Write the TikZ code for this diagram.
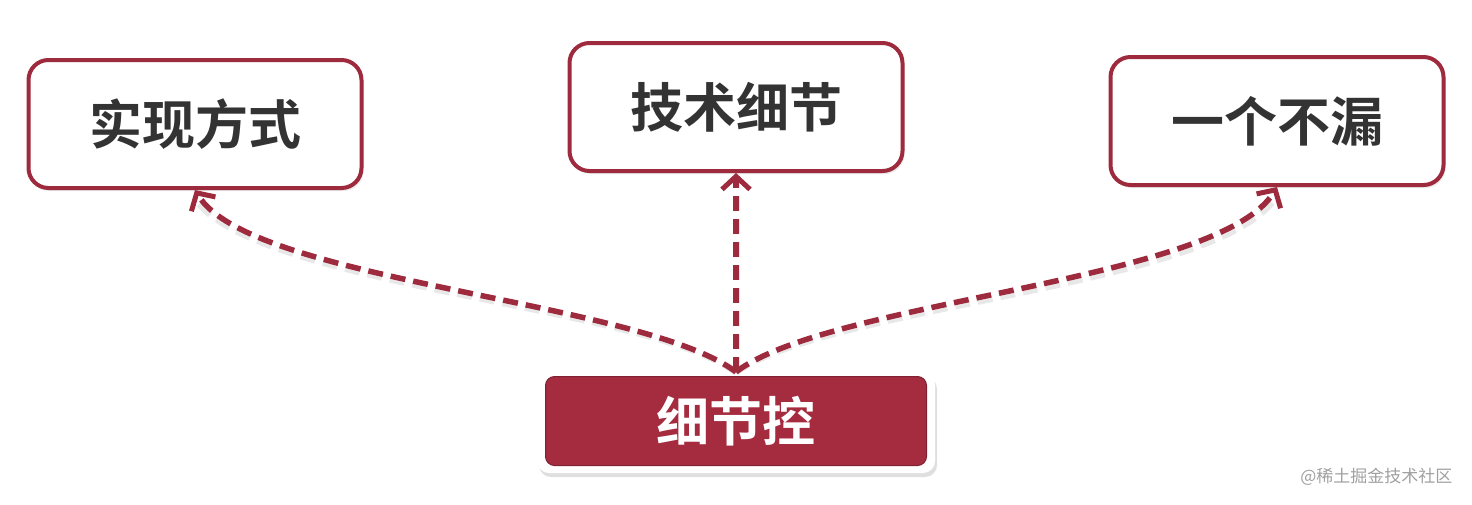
\documentclass[tikz,border=0pt]{standalone}
\usepackage{fontspec}
\newfontfamily\cjk{Noto Sans CJK SC}[UprightFont=*, BoldFont=* Bold]
\usetikzlibrary{arrows.meta,shadows}
\definecolor{boxred}{HTML}{9E2A3E}
\definecolor{fillred}{HTML}{A52B3F}
\definecolor{txt}{HTML}{333333}
\definecolor{wm}{HTML}{A0A0A0}
\tikzset{
  topbox/.style={draw=boxred, line width=4pt, fill=white, rounded corners=20pt,
    minimum width=333pt, minimum height=128pt, inner sep=0pt,
    font=\cjk\bfseries\fontsize{53}{58}\selectfont, text=txt,
    drop shadow={opacity=0.18, shadow xshift=2pt, shadow yshift=-3pt}},
  rimbox/.style={fill=white, rounded corners=12pt, minimum width=398pt, minimum height=100pt,
    inner sep=0pt, drop shadow={opacity=0.25, shadow xshift=2pt, shadow yshift=-4pt}},
  redbox/.style={fill=fillred, draw=boxred!80!black, line width=1pt, rounded corners=9pt,
    minimum width=381pt, minimum height=89pt, inner sep=0pt,
    font=\cjk\bfseries\fontsize{53}{58}\selectfont, text=white},
  conn/.style={draw=boxred, line width=5.5pt, dash pattern=on 15pt off 8pt,
    -{Straight Barb[length=13pt,width=28pt,line width=5pt]}},
  connshadow/.style={draw=black, opacity=0.09, line width=7pt, dash pattern=on 15pt off 8pt},
}
\begin{document}
\begin{tikzpicture}[x=1pt,y=-1pt]
\useasboundingbox (0,0) rectangle (1472,504);
\node[topbox] (left) at (195,124) {实现方式};
\node[topbox] (mid) at (736,107) {技术细节};
\node[topbox] (right) at (1277,121) {一个不漏};
\node[rimbox] (rim) at (736,423) {};
\node[redbox] (bot) at (736,421) {细节控};
\coordinate (src) at (736,372);
% shadows of connectors
\begin{scope}[shift={(3pt,-4pt)}]
\draw[connshadow] (src) .. controls (640,300) and (250,282) .. ([yshift=-8pt]left.south);
\draw[connshadow] (src) -- ([yshift=-8pt]mid.south);
\draw[connshadow] (src) .. controls (830,300) and (1220,282) .. ([yshift=-8pt]right.south);
\end{scope}
\draw[conn] (src) .. controls (640,300) and (250,282) .. (left.south);
\draw[conn] (src) -- (mid.south);
\draw[conn] (src) .. controls (830,300) and (1220,282) .. (right.south);
\node[text=wm, font=\cjk\fontsize{17}{20}\selectfont, anchor=east] (wmark) at (1456,477) {@稀土掘金技术社区};
\end{tikzpicture}
\end{document}
